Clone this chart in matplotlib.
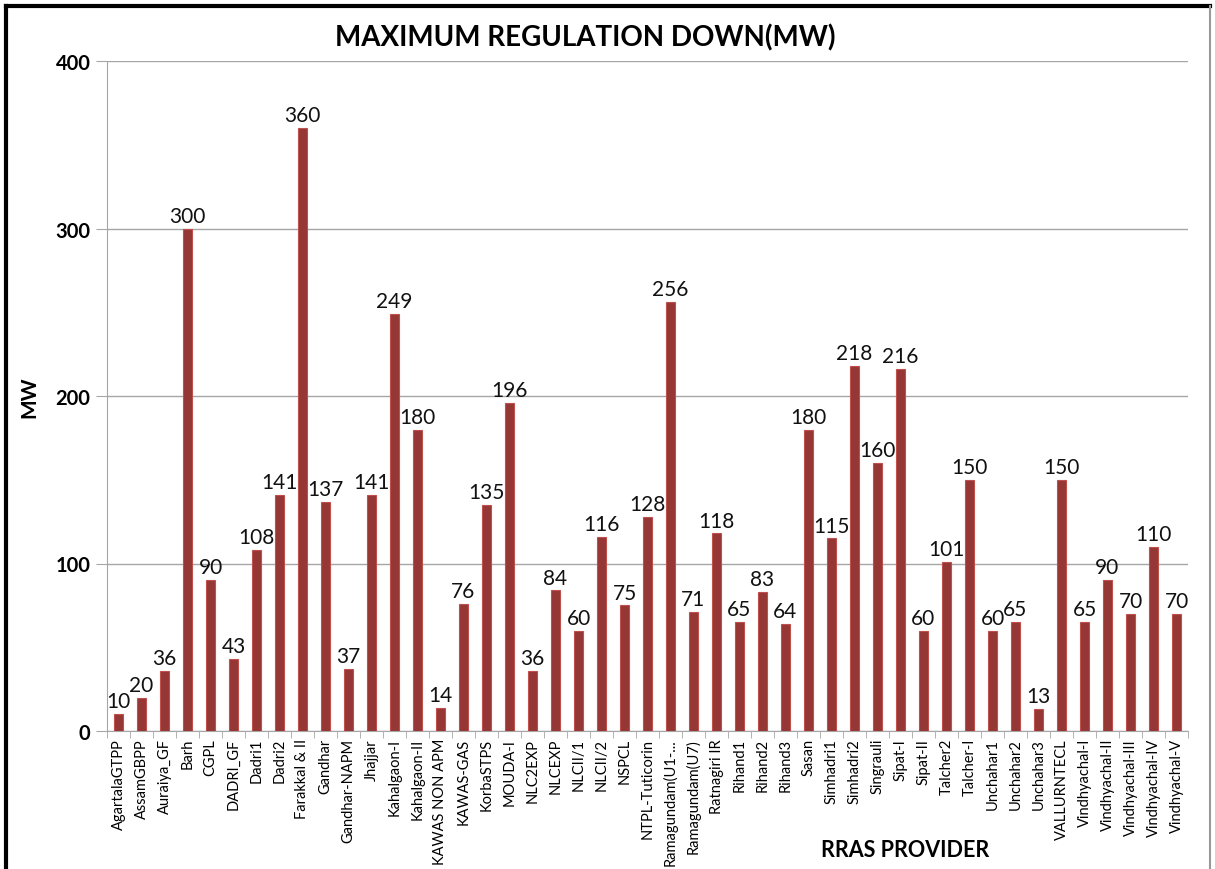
import matplotlib
matplotlib.use("Agg")
import matplotlib.pyplot as plt
from matplotlib.lines import Line2D

categories = ["AgartalaGTPP", "AssamGBPP", "Auraiya_GF", "Barh", "CGPL", "DADRI_GF",
              "Dadri1", "Dadri2", "Farakkal & II", "Gandhar", "Gandhar-NAPM", "Jhajjar",
              "Kahalgaon-I", "Kahalgaon-II", "KAWAS NON APM", "KAWAS-GAS", "KorbaSTPS",
              "MOUDA-I", "NLC2EXP", "NLCEXP", "NLCII/1", "NLCII/2", "NSPCL",
              "NTPL-Tuticorin", "Ramagundam(U1-...", "Ramagundam(U7)", "Ratnagiri IR",
              "Rihand1", "Rihand2", "Rihand3", "Sasan", "Simhadri1", "Simhadri2",
              "Singrauli", "Sipat-I", "Sipat-II", "Talcher2", "Talcher-I", "Unchahar1",
              "Unchahar2", "Unchahar3", "VALLURNTECL", "Vindhyachal-I", "Vindhyachal-II",
              "Vindhyachal-III", "Vindhyachal-IV", "Vindhyachal-V"]
values = [10, 20, 36, 300, 90, 43, 108, 141, 360, 137, 37, 141, 249, 180, 14, 76, 135,
          196, 36, 84, 60, 116, 75, 128, 256, 71, 118, 65, 83, 64, 180, 115, 218, 160,
          216, 60, 101, 150, 60, 65, 13, 150, 65, 90, 70, 110, 70]
yticks = [0, 100, 200, 300, 400]

plt.rcParams['font.family'] = ['Lato', 'DejaVu Sans']

fig = plt.figure(figsize=(12.15, 8.7), dpi=100)
ax = fig.add_axes([107/1215, 1 - 732/870, (1188-107)/1215, (732-62)/870])

x = list(range(len(categories)))
ax.bar(x, values, width=0.42, color="#953735", edgecolor="#C0504D", linewidth=0.8, zorder=3)
for xi, v in zip(x, values):
    ax.annotate(str(v), (xi, v), xytext=(0, 2), textcoords="offset points",
                ha="center", va="bottom", fontsize=15, color="#111111", zorder=4)

ax.set_xlim(-0.5, len(categories) - 0.5)
ax.set_ylim(0, 400)
ax.set_yticks(yticks)
ax.set_yticklabels([str(t) for t in yticks], fontsize=14.5, fontweight="bold")
ax.yaxis.grid(True, color="#A6A6A6", linewidth=1.0, zorder=0)
ax.set_axisbelow(True)

ax.set_xticks(x)
ax.set_xticklabels(categories, rotation=90, fontsize=10.5)
ax.tick_params(axis="x", length=0, pad=5)
ax.set_xticks([i - 0.5 for i in range(len(categories) + 1)], minor=True)
ax.tick_params(axis="x", which="minor", length=5, color="#A6A6A6")
ax.tick_params(axis="y", length=8, color="#A6A6A6", pad=4)

for s in ["top", "right"]:
    ax.spines[s].set_visible(False)
ax.spines["left"].set_color("#A6A6A6")
ax.spines["bottom"].set_color("#A6A6A6")

ax.set_ylabel("MW", fontsize=15, fontweight="bold")
ax.yaxis.set_label_coords(-0.063, 0.5)
fig.text(905/1215, 1 - 851/870, "RRAS PROVIDER", fontsize=15.5, fontweight="bold",
         ha="center", va="center")
fig.text(585/1215, 1 - 38/870, "MAXIMUM REGULATION DOWN(MW)", fontsize=20,
         fontweight="bold", ha="center", va="center")

# frame around chart
fig.add_artist(Line2D([6/1215, 6/1215], [0, 1 - 7/870], transform=fig.transFigure,
                      color="black", linewidth=3))
fig.add_artist(Line2D([6/1215, 1210/1215], [1 - 7/870, 1 - 7/870], transform=fig.transFigure,
                      color="black", linewidth=3))
fig.add_artist(Line2D([1210/1215, 1210/1215], [0, 1 - 7/870], transform=fig.transFigure,
                      color="#999999", linewidth=1.5))

fig.savefig("out.png", dpi=100)
